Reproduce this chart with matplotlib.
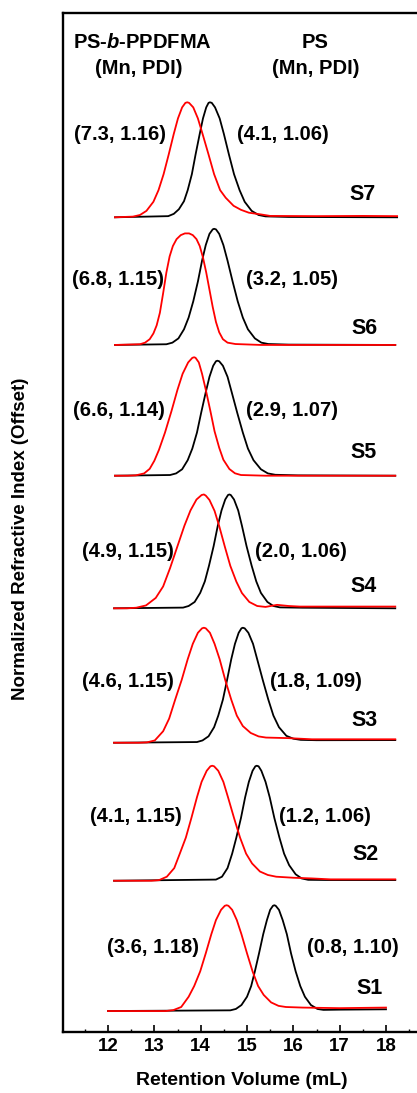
import matplotlib
matplotlib.use("Agg")
import matplotlib.pyplot as plt
from matplotlib.ticker import MultipleLocator

plt.rcParams['font.family'] = ['Liberation Sans', 'DejaVu Sans']
plt.rcParams['font.weight'] = 'bold'
plt.rcParams['mathtext.fontset'] = 'custom'
plt.rcParams['mathtext.it'] = 'Liberation Sans:italic:bold'
plt.rcParams['mathtext.rm'] = 'Liberation Sans:bold'

# ---------------- data ----------------
samples = ['S1', 'S2', 'S3', 'S4', 'S5', 'S6', 'S7']
offsets = [0.178, 1.311, 2.511, 3.680, 4.833, 5.970, 7.080]

ps_mn = [0.8, 1.2, 1.8, 2.0, 2.9, 3.2, 4.1]
ps_pdi = [1.10, 1.06, 1.09, 1.06, 1.07, 1.05, 1.06]
bc_mn = [3.6, 4.1, 4.6, 4.9, 6.6, 6.8, 7.3]
bc_pdi = [1.18, 1.15, 1.15, 1.15, 1.14, 1.15, 1.16]

# PS traces (black): retention volume (mL) and normalized RI signal
s1_ps_x = [12.0, 14.64, 14.76, 14.88, 15.00, 15.09, 15.17, 15.26, 15.35, 15.43, 15.50, 15.56, 15.59,
           15.62, 15.69, 15.77, 15.86, 15.95, 16.05, 16.15, 16.25, 16.38, 16.52, 16.65, 17.0, 18.0]
s1_ps_h = [0.0, 0.006, 0.018, 0.052, 0.124, 0.217, 0.345, 0.502, 0.668, 0.791, 0.880, 0.915, 0.92,
           0.915, 0.880, 0.791, 0.668, 0.502, 0.345, 0.217, 0.124, 0.052, 0.018, 0.010, 0.012, 0.015]
s2_ps_x = [12.13, 14.33, 14.46, 14.58, 14.68, 14.77, 14.87, 14.96, 15.04, 15.12, 15.18, 15.21,
           15.25, 15.31, 15.40, 15.49, 15.59, 15.70, 15.80, 15.91, 16.05, 16.18, 16.32, 16.8, 18.2]
s2_ps_h = [0.0, 0.01, 0.035, 0.11, 0.236, 0.375, 0.546, 0.726, 0.860, 0.956, 0.995, 1.0,
           0.995, 0.956, 0.860, 0.726, 0.546, 0.375, 0.236, 0.135, 0.056, 0.020, 0.008, 0.006, 0.006]
s3_ps_x = [12.13, 13.92, 14.04, 14.17, 14.29, 14.38, 14.48, 14.57, 14.66, 14.74, 14.82, 14.88, 14.91,
           14.95, 15.03, 15.13, 15.22, 15.34, 15.46, 15.57, 15.69, 15.85, 16.00, 16.16, 16.5, 18.2]
s3_ps_h = [0.0, 0.006, 0.020, 0.056, 0.135, 0.236, 0.375, 0.546, 0.726, 0.860, 0.956, 0.995, 1.0,
           0.995, 0.956, 0.860, 0.726, 0.546, 0.375, 0.236, 0.135, 0.060, 0.035, 0.025, 0.022, 0.023]
s4_ps_x = [12.13, 13.62, 13.74, 13.87, 13.99, 14.09, 14.18, 14.28, 14.37, 14.45, 14.53, 14.59, 14.62,
           14.65, 14.72, 14.81, 14.89, 14.99, 15.10, 15.20, 15.30, 15.44, 15.57, 15.71, 16.2, 18.2]
s4_ps_h = [0.0, 0.006, 0.020, 0.055, 0.134, 0.234, 0.371, 0.541, 0.719, 0.851, 0.946, 0.985, 0.99,
           0.985, 0.946, 0.851, 0.719, 0.541, 0.371, 0.234, 0.134, 0.055, 0.020, 0.008, 0.005, 0.0]
s5_ps_x = [12.15, 13.34, 13.47, 13.60, 13.72, 13.82, 13.92, 14.01, 14.11, 14.19, 14.27, 14.33, 14.36,
           14.40, 14.48, 14.58, 14.67, 14.79, 14.91, 15.02, 15.14, 15.30, 15.45, 15.61, 16.1, 18.2]
s5_ps_h = [0.0, 0.006, 0.020, 0.056, 0.135, 0.236, 0.375, 0.546, 0.726, 0.860, 0.956, 0.995, 1.0,
           0.995, 0.956, 0.860, 0.726, 0.546, 0.375, 0.236, 0.135, 0.056, 0.020, 0.008, 0.003, 0.0]
s6_ps_x = [12.15, 13.26, 13.39, 13.52, 13.64, 13.74, 13.84, 13.94, 14.03, 14.11, 14.19, 14.26, 14.29,
           14.33, 14.40, 14.49, 14.58, 14.69, 14.80, 14.91, 15.02, 15.17, 15.31, 15.46, 15.9, 18.2]
s6_ps_h = [0.0, 0.006, 0.020, 0.057, 0.136, 0.238, 0.379, 0.551, 0.733, 0.869, 0.966, 1.005, 1.01,
           1.005, 0.966, 0.869, 0.733, 0.551, 0.379, 0.238, 0.136, 0.057, 0.020, 0.008, 0.003, 0.0]
s7_ps_x = [12.15, 13.30, 13.42, 13.53, 13.64, 13.72, 13.81, 13.89, 13.98, 14.05, 14.12, 14.17, 14.20,
           14.24, 14.31, 14.41, 14.50, 14.61, 14.72, 14.84, 14.95, 15.10, 15.25, 15.40, 15.9, 18.24]
s7_ps_h = [0.0, 0.010, 0.030, 0.070, 0.140, 0.236, 0.375, 0.546, 0.726, 0.860, 0.956, 0.995, 1.0,
           0.995, 0.956, 0.860, 0.726, 0.546, 0.375, 0.236, 0.135, 0.056, 0.020, 0.008, 0.003, 0.0]

# PS-b-PPDFMA traces (red)
s1_bc_x = [12.0, 13.25, 13.41, 13.58, 13.74, 13.86, 13.99, 14.11, 14.23, 14.33, 14.44, 14.52, 14.56,
           14.60, 14.68, 14.78, 14.88, 15.00, 15.12, 15.24, 15.36, 15.52, 15.68, 15.84, 16.2, 17.0, 18.0]
s1_bc_h = [0.0, 0.0, 0.008, 0.035, 0.124, 0.217, 0.345, 0.502, 0.668, 0.791, 0.880, 0.915, 0.92,
           0.915, 0.880, 0.791, 0.668, 0.502, 0.345, 0.217, 0.140, 0.075, 0.045, 0.035, 0.030, 0.025, 0.030]
s2_bc_x = [12.13, 12.94, 13.10, 13.27, 13.43, 13.55, 13.68, 13.80, 13.92, 14.02, 14.13, 14.21, 14.25,
           14.29, 14.38, 14.49, 14.59, 14.72, 14.85, 14.98, 15.11, 15.28, 15.45, 15.63, 16.0, 16.4, 16.8, 18.2]
s2_bc_h = [0.0, 0.0, 0.005, 0.035, 0.11, 0.236, 0.375, 0.546, 0.726, 0.860, 0.956, 0.995, 1.0,
           0.995, 0.956, 0.860, 0.726, 0.546, 0.375, 0.236, 0.150, 0.080, 0.050, 0.035, 0.026, 0.020, 0.012, 0.012]
s3_bc_x = [12.13, 12.66, 12.84, 13.01, 13.19, 13.32, 13.45, 13.59, 13.72, 13.83, 13.94, 14.03, 14.07,
           14.11, 14.20, 14.30, 14.41, 14.53, 14.66, 14.78, 14.91, 15.08, 15.25, 15.41, 15.9, 16.4, 18.2]
s3_bc_h = [0.0, 0.0, 0.003, 0.02, 0.10, 0.21, 0.375, 0.546, 0.726, 0.860, 0.956, 0.995, 1.0,
           0.995, 0.956, 0.860, 0.726, 0.546, 0.375, 0.236, 0.145, 0.085, 0.055, 0.045, 0.040, 0.030, 0.030]
s4_bc_x = [12.13, 12.41, 12.61, 12.82, 13.03, 13.19, 13.34, 13.50, 13.65, 13.78, 13.91, 14.02, 14.07,
           14.11, 14.19, 14.30, 14.40, 14.52, 14.64, 14.77, 14.89, 15.05, 15.22, 15.40, 15.65, 15.9, 16.14, 18.2]
s4_bc_h = [0.0, 0.0, 0.005, 0.025, 0.09, 0.19, 0.35, 0.541, 0.719, 0.851, 0.946, 0.985, 0.99,
           0.980, 0.942, 0.847, 0.715, 0.538, 0.369, 0.232, 0.133, 0.055, 0.020, 0.012, 0.030, 0.020, 0.015, 0.015]
s5_bc_x = [12.15, 12.42, 12.60, 12.78, 12.90, 13.00, 13.10, 13.23, 13.37, 13.50, 13.61, 13.73, 13.82, 13.86,
           13.89, 13.96, 14.03, 14.11, 14.21, 14.30, 14.40, 14.49, 14.62, 14.74, 14.87, 15.4, 18.2]
s5_bc_h = [0.0, 0.0, 0.003, 0.02, 0.06, 0.13, 0.225, 0.375, 0.562, 0.748, 0.886, 0.985, 1.025, 1.03,
           1.025, 0.985, 0.886, 0.748, 0.562, 0.386, 0.243, 0.139, 0.058, 0.021, 0.006, 0.0, 0.0]
s6_bc_x = [12.15, 12.69, 12.80, 12.90, 12.98, 13.05, 13.12, 13.19, 13.26, 13.33, 13.40, 13.48, 13.57,
           13.66, 13.75, 13.83, 13.91, 13.98, 14.05, 14.12, 14.19, 14.26, 14.33, 14.40, 14.48, 14.58,
           14.75, 15.3, 18.2]
s6_bc_h = [0.0, 0.006, 0.02, 0.05, 0.10, 0.17, 0.28, 0.45, 0.63, 0.77, 0.86, 0.92, 0.955,
           0.97, 0.97, 0.955, 0.92, 0.86, 0.76, 0.63, 0.48, 0.33, 0.20, 0.11, 0.05, 0.02,
           0.008, 0.0, 0.0]
s7_bc_x = [12.15, 12.54, 12.69, 12.83, 12.98, 13.09, 13.20, 13.31, 13.42, 13.51, 13.60, 13.67, 13.71,
           13.75, 13.84, 13.94, 14.04, 14.17, 14.29, 14.42, 14.54, 14.71, 14.87, 15.04, 15.3, 15.5,
           16.5, 17.5, 18.24]
s7_bc_h = [0.0, 0.006, 0.020, 0.056, 0.135, 0.236, 0.375, 0.546, 0.726, 0.860, 0.956, 0.995, 1.0,
           0.995, 0.956, 0.860, 0.726, 0.546, 0.375, 0.236, 0.170, 0.100, 0.065, 0.040, 0.025, 0.012,
           0.010, 0.012, 0.010]

ps_x = [s1_ps_x, s2_ps_x, s3_ps_x, s4_ps_x, s5_ps_x, s6_ps_x, s7_ps_x]
ps_h = [s1_ps_h, s2_ps_h, s3_ps_h, s4_ps_h, s5_ps_h, s6_ps_h, s7_ps_h]
bc_x = [s1_bc_x, s2_bc_x, s3_bc_x, s4_bc_x, s5_bc_x, s6_bc_x, s7_bc_x]
bc_h = [s1_bc_h, s2_bc_h, s3_bc_h, s4_bc_h, s5_bc_h, s6_bc_h, s7_bc_h]

x_ticks = [12, 13, 14, 15, 16, 17, 18]

# ---------------- layout (pixel centres of annotations) ----------------
W, H = 417, 1093
bc_label_px = [(152.7, 947.7), (136.3, 816.7), (128.3, 681.7), (128.3, 551.7),
               (118.8, 410.7), (118.3, 279.3), (119.7, 135.0)]
ps_label_px = [(352.7, 947.7), (325.0, 816.7), (316.0, 681.7), (301.0, 551.7),
               (291.7, 410.7), (291.7, 279.3), (283.3, 135.0)]
s_label_px = [(370.0, 988.3), (365.5, 855.0), (364.0, 720.0), (364.0, 586.0),
              (364.0, 452.7), (364.0, 328.3), (363.0, 195.0)]

fig = plt.figure(figsize=(W / 100, H / 100), dpi=100)
ax_l, ax_r, ax_t, ax_b = 63.3, 420.0, 13.3, 1031.5
ax = fig.add_axes([ax_l / W, 1 - ax_b / H, (ax_r - ax_l) / W, (ax_b - ax_t) / H])

for i in range(len(samples)):
    ax.plot(ps_x[i], [v + offsets[i] for v in ps_h[i]], color='black', lw=1.3,
            solid_joinstyle='round')
    ax.plot(bc_x[i], [v + offsets[i] for v in bc_h[i]], color='#ff0000', lw=1.3,
            solid_joinstyle='round')

px_per_ml = (386 - 108) / 6.0
ax.set_xlim(12 + (ax_l - 108) / px_per_ml, 12 + (ax_r - 108) / px_per_ml)
ax.set_ylim(0, (ax_b - ax_t) / 115.0)

ax.set_xticks(x_ticks)
ax.xaxis.set_minor_locator(MultipleLocator(0.5))
ax.tick_params(axis='x', which='major', direction='in', length=5, width=1.2,
               labelsize=13.5, pad=5)
ax.tick_params(axis='x', which='minor', direction='in', length=2.5, width=1.0)
ax.set_yticks([])
for s in ['top', 'left', 'bottom']:
    ax.spines[s].set_linewidth(1.7)
ax.spines['right'].set_visible(False)

ax.set_xlabel('Retention Volume (mL)', fontsize=14, fontweight='bold', labelpad=12)
fig.text(21 / W, 1 - 539 / H, 'Normalized Refractive Index (Offset)', rotation=90,
         ha='center', va='center', fontsize=13.5, fontweight='bold')

def ftext(px, py, s, size=14.5):
    fig.text(px / W, 1 - py / H, s, ha='center', va='center', fontsize=size,
             fontweight='bold')

ftext(142, 43, r'PS-$\mathit{b}$-PPDFMA')
ftext(139, 68, '(Mn, PDI)')
ftext(315, 43, 'PS')
ftext(316, 68, '(Mn, PDI)')

for i in range(len(samples)):
    ftext(*bc_label_px[i], f'({bc_mn[i]:.1f}, {bc_pdi[i]:.2f})')
    ftext(*ps_label_px[i], f'({ps_mn[i]:.1f}, {ps_pdi[i]:.2f})')
    ftext(*s_label_px[i], samples[i], size=15.5)

fig.savefig('out.png', dpi=100)
